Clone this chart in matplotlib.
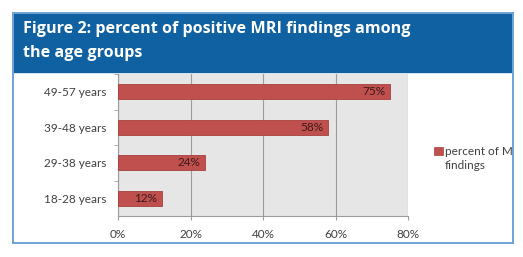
import matplotlib.pyplot as plt
from matplotlib.patches import Rectangle

# data
age_groups = ['18-28 years', '29-38 years', '39-48 years', '49-57 years']
pct_positive = [12, 24, 58, 75]
x_ticks = [0, 20, 40, 60, 80]

W, H = 523, 257
BLUE = '#1061a1'
BORDER = '#6fa3d6'
BAR = '#c0504d'
BAR_EDGE = '#a5403d'
GRID = '#9c9c9c'
TXT = '#404040'

def fx(px):
    return px / W

def fy(py):
    return 1 - py / H

fig = plt.figure(figsize=(W / 100, H / 100), dpi=100)
fig.patch.set_facecolor('white')

# outer frame
box = fig.add_axes([fx(13), fy(243), fx(500), (243 - 13) / H])
box.set_xlim(0, 500)
box.set_ylim(230, 0)
box.set_xticks([])
box.set_yticks([])
for sp in box.spines.values():
    sp.set_color(BORDER)
    sp.set_linewidth(1.4)
box.add_patch(Rectangle((0, 0), 500, 59, color=BLUE, zorder=1))
box.text(10, 16, 'Figure 2: percent of positive MRI findings among',
         fontsize=11.6, fontweight='bold', color='white', family='Open Sans',
         va='center', ha='left')
box.text(10, 40, 'the age groups',
         fontsize=11.6, fontweight='bold', color='white', family='Open Sans',
         va='center', ha='left')

# legend (clipped by the frame like in the original)
box.add_patch(Rectangle((421, 134), 9, 8, facecolor=BAR, edgecolor=BAR_EDGE, lw=0.5))
box.text(432, 145.5, 'percent of MRI\nfindings', fontsize=8.5, color=TXT,
         family='Lato', va='center', ha='left', linespacing=1.3,
         clip_on=True)

# chart
ax = fig.add_axes([fx(118), fy(216), fx(290), 142 / H])
ax.set_facecolor('#e6e6e6')
ypos = range(len(age_groups))
bars = ax.barh(ypos, pct_positive, height=0.42, color=BAR,
               edgecolor=BAR_EDGE, linewidth=0.6, zorder=3)
for bar, v in zip(bars, pct_positive):
    ax.text(bar.get_width() - 1.2, bar.get_y() + bar.get_height() / 2,
            f'{v}%', ha='right', va='center', fontsize=8.5, color='#3a1a1a',
            family='Lato', zorder=4)

ax.set_xlim(0, 80)
ax.set_ylim(-0.5, 3.5)
ax.set_xticks(x_ticks)
ax.set_xticklabels([f'{t}%' for t in x_ticks])
ax.set_yticks(list(ypos))
ax.set_yticklabels(age_groups)
ax.set_yticks([0.5, 1.5, 2.5, 3.5], minor=True)
ax.tick_params(axis='y', which='major', length=0, pad=8.5)
ax.tick_params(axis='y', which='minor', length=3, color=GRID)
ax.tick_params(axis='x', length=3, color=GRID, pad=6)
for lab in ax.get_xticklabels() + ax.get_yticklabels():
    lab.set_fontsize(8.5)
    lab.set_color(TXT)
    lab.set_family('Lato')
ax.grid(axis='x', color=GRID, linewidth=0.8, zorder=0)
ax.set_axisbelow(True)
for name, sp in ax.spines.items():
    if name in ('left', 'bottom'):
        sp.set_color(GRID)
        sp.set_linewidth(0.8)
    else:
        sp.set_visible(False)

fig.savefig('out.png', dpi=100, facecolor='white')
